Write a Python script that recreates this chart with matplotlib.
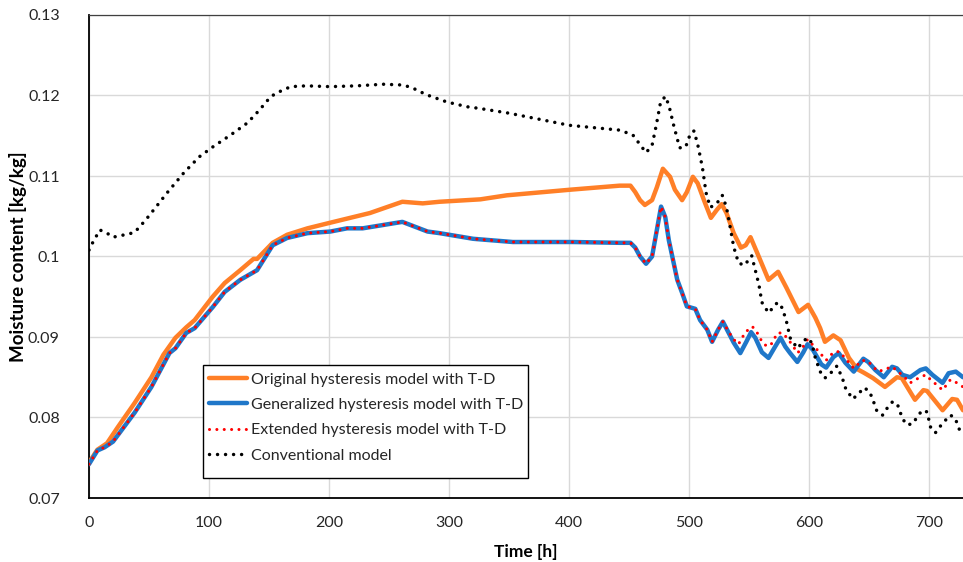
import matplotlib
matplotlib.use("Agg")
import matplotlib.pyplot as plt
from matplotlib.ticker import FuncFormatter
from matplotlib.patches import Rectangle

# ---------------- data ----------------
orig_t = [0, 7, 15, 24, 38, 52, 62, 72, 81, 88, 103, 113, 126, 137, 140, 153, 165, 182,
          201, 234, 261, 278, 292, 326, 348, 401, 442, 451, 455, 459, 463, 469, 473, 478,
          484, 488, 494, 498, 503, 507, 513, 518, 523, 527, 531, 537, 543, 547, 551, 557,
          566, 574, 581, 591, 599, 605, 609, 613, 620, 626, 633, 640, 645, 653, 663, 673,
          677, 688, 695, 698, 711, 719, 723, 728]
orig_y = [0.0744, 0.0760, 0.0768, 0.0788, 0.0818, 0.0850, 0.0878, 0.0899, 0.0912, 0.0921,
          0.0950, 0.0967, 0.0983, 0.0997, 0.0997, 0.1017, 0.1027, 0.1035, 0.1042, 0.1054,
          0.1068, 0.1066, 0.1068, 0.1071, 0.1076, 0.1083, 0.1088, 0.1088, 0.1080, 0.1070,
          0.1064, 0.1070, 0.1086, 0.1109, 0.1099, 0.1083, 0.1070, 0.1080, 0.1099, 0.1091,
          0.1067, 0.1048, 0.1058, 0.1065, 0.1054, 0.1029, 0.1011, 0.1014, 0.1024, 0.1003,
          0.0971, 0.0981, 0.0961, 0.0931, 0.0940, 0.0924, 0.0911, 0.0894, 0.0902, 0.0896,
          0.0874, 0.0860, 0.0856, 0.0849, 0.0838, 0.0850, 0.0849, 0.0822, 0.0834, 0.0833,
          0.0809, 0.0823, 0.0822, 0.0809]

gen_t = [0, 7, 13, 20, 38, 52, 67, 72, 81, 88, 103, 113, 126, 140, 153, 165, 182, 201,
         215, 228, 261, 282, 292, 320, 353, 403, 442, 451, 455, 459, 464, 469, 473, 476.5,
         480, 483, 487, 490, 494, 498, 505, 509, 515, 519, 524, 528, 532.5, 537, 542.5,
         547.5, 551.5, 555, 560.5, 566, 571.5, 576, 580, 584, 590, 595, 598.5, 603, 610,
         614, 620, 624.5, 630, 637, 645, 649, 655, 662, 669, 673, 677.5, 684, 692.5, 697,
         702.5, 711, 716, 722, 728]
gen_y = [0.0742, 0.0759, 0.0763, 0.0770, 0.0806, 0.0838, 0.0880, 0.0886, 0.0905, 0.0911,
         0.0937, 0.0956, 0.0971, 0.0983, 0.1014, 0.1023, 0.1029, 0.1031, 0.1035, 0.1035,
         0.1043, 0.1031, 0.1029, 0.1022, 0.1018, 0.1018, 0.1017, 0.1017, 0.1011, 0.1000,
         0.0991, 0.1000, 0.1033, 0.1062, 0.1049, 0.1020, 0.0992, 0.0971, 0.0955, 0.0938,
         0.0935, 0.0921, 0.0909, 0.0894, 0.0909, 0.0919, 0.0906, 0.0893, 0.0880, 0.0894,
         0.0906, 0.0899, 0.0881, 0.0874, 0.0888, 0.0899, 0.0888, 0.0880, 0.0869, 0.0881,
         0.0891, 0.0884, 0.0866, 0.0862, 0.0875, 0.0880, 0.0868, 0.0857, 0.0873, 0.0869,
         0.0859, 0.0850, 0.0863, 0.0861, 0.0853, 0.0850, 0.0859, 0.0861, 0.0853, 0.0843,
         0.0855, 0.0857, 0.0850]

ext_t = [0, 7, 13, 20, 38, 52, 67, 72, 81, 88, 103, 113, 126, 140, 153, 165, 182, 201,
         215, 228, 261, 282, 292, 320, 353, 403, 442, 451, 455, 459, 464, 469, 473, 476.5,
         480, 483, 487, 490, 494, 498, 505, 509, 515, 519, 524, 528, 533, 537, 541, 546.7,
         552.5, 556, 559, 563, 567.5, 573.5, 578, 586, 590, 594, 598.5, 603, 609, 614, 620,
         625, 632.5, 637, 644, 649, 653, 657.5, 665, 669, 674, 680, 684, 691, 697, 701,
         706.5, 711, 717.5, 723, 728]
ext_y = [0.0742, 0.0759, 0.0763, 0.0770, 0.0806, 0.0838, 0.0880, 0.0886, 0.0905, 0.0911,
         0.0937, 0.0956, 0.0971, 0.0983, 0.1014, 0.1023, 0.1029, 0.1031, 0.1035, 0.1035,
         0.1043, 0.1031, 0.1029, 0.1022, 0.1018, 0.1018, 0.1017, 0.1017, 0.1011, 0.1000,
         0.0991, 0.1000, 0.1033, 0.1062, 0.1049, 0.1020, 0.0992, 0.0971, 0.0955, 0.0938,
         0.0935, 0.0921, 0.0909, 0.0894, 0.0909, 0.0919, 0.0906, 0.0897, 0.0891, 0.0906,
         0.0913, 0.0907, 0.0898, 0.0890, 0.0889, 0.0905, 0.0905, 0.0890, 0.0880, 0.0886,
         0.0897, 0.0890, 0.0880, 0.0871, 0.0881, 0.0882, 0.0869, 0.0861, 0.0871, 0.0870,
         0.0863, 0.0857, 0.0861, 0.0863, 0.0857, 0.0849, 0.0843, 0.0849, 0.0853, 0.0847,
         0.0840, 0.0834, 0.0847, 0.0843, 0.0838]

conv_t = [0, 3, 9, 15, 20, 33, 38, 47, 55, 65, 79, 92, 103, 118, 132, 142, 151, 156, 168,
          181, 201, 223, 245, 262, 270, 281, 298, 315, 325, 350, 400, 442, 453, 461, 464,
          469, 472.5, 476, 480, 483, 487, 492, 497, 501, 504, 507.5, 511, 514, 517.5, 523,
          527.5, 531, 534, 537, 541, 546, 552, 555, 558, 560.5, 566, 573.5, 577.5, 581,
          584, 590, 598, 602, 605, 609, 613, 619, 623, 627.5, 630, 636, 641, 645, 649, 652,
          656.5, 661, 665, 669, 673, 677.5, 681, 686, 690, 694, 698, 701, 705, 709, 713,
          717.5, 721.5, 726, 728]
conv_y = [0.1008, 0.1017, 0.1033, 0.1029, 0.1024, 0.1028, 0.1030, 0.1045, 0.1060, 0.1079,
          0.1104, 0.1124, 0.1136, 0.1151, 0.1166, 0.1182, 0.1198, 0.1203, 0.1211, 0.1212,
          0.1211, 0.1212, 0.1214, 0.1213, 0.1209, 0.1201, 0.1192, 0.1186, 0.1184, 0.1178,
          0.1163, 0.1157, 0.1151, 0.1135, 0.1129, 0.1138, 0.1163, 0.1191, 0.1199, 0.1188,
          0.1163, 0.1135, 0.1136, 0.1153, 0.1156, 0.1136, 0.1110, 0.1079, 0.1061, 0.1066,
          0.1076, 0.1061, 0.1037, 0.1012, 0.0992, 0.0989, 0.1001, 0.0983, 0.0965, 0.0943,
          0.0930, 0.0943, 0.0936, 0.0919, 0.0899, 0.0886, 0.0899, 0.0893, 0.0874, 0.0857,
          0.0849, 0.0857, 0.0864, 0.0849, 0.0837, 0.0823, 0.0829, 0.0837, 0.0834, 0.0826,
          0.0807, 0.0803, 0.0812, 0.0819, 0.0818, 0.0799, 0.0791, 0.0792, 0.0801, 0.0809,
          0.0807, 0.0788, 0.0781, 0.0789, 0.0796, 0.0803, 0.0799, 0.0781, 0.0779]

labels = ["Original hysteresis model with T-D",
          "Generalized hysteresis model with T-D",
          "Extended hysteresis model with T-D",
          "Conventional model"]
x_ticks = [0, 100, 200, 300, 400, 500, 600, 700]
y_ticks = [0.07, 0.08, 0.09, 0.10, 0.11, 0.12, 0.13]

# ---------------- figure ----------------
plt.rcParams['font.family'] = ['Lato', 'DejaVu Sans']
W, H = 963, 562
fig = plt.figure(figsize=(W / 100, H / 100), dpi=100)
ax = fig.add_axes([89 / W, 1 - 498 / H, 874 / W, 483 / H])

ax.plot(orig_t, orig_y, color='#FF7F27', lw=3.2, solid_capstyle='round',
        solid_joinstyle='round', label=labels[0], zorder=3)
ax.plot(gen_t, gen_y, color='#1F77C9', lw=3.2, solid_capstyle='round',
        solid_joinstyle='round', label=labels[1], zorder=4)
ax.plot(ext_t, ext_y, color='#FF0000', lw=2.2, linestyle=(0, (0.01, 2.4)),
        dash_capstyle='round', label=labels[2], zorder=5)
ax.plot(conv_t, conv_y, color='#000000', lw=2.5, linestyle=(0, (0.01, 2.3)),
        dash_capstyle='round', label=labels[3], zorder=6)

ax.set_xlim(0, 728)
ax.set_ylim(0.07, 0.13)
ax.set_xticks(x_ticks)
ax.set_yticks(y_ticks)


def yfmt(v, pos):
    return f"{v:.2f}".rstrip('0')


ax.yaxis.set_major_formatter(FuncFormatter(yfmt))
ax.tick_params(axis='both', length=0, labelsize=11.5)
ax.tick_params(axis='y', pad=21)
ax.tick_params(axis='x', pad=13)
for lab in ax.get_xticklabels() + ax.get_yticklabels():
    lab.set_color('#262626')

ax.grid(True, color='#D9D9D9', lw=1.0, zorder=0)
ax.set_axisbelow(True)

for s in ['left', 'bottom']:
    ax.spines[s].set_color('#000000')
    ax.spines[s].set_linewidth(1.3)
ax.spines['right'].set_visible(False)
ax.spines['top'].set_linestyle((0, (1, 1)))
ax.spines['top'].set_color('#404040')
ax.spines['top'].set_linewidth(0.9)

ax.set_xlabel('Time [h]', fontsize=12.5, fontweight='bold')
ax.set_ylabel('Moisture content [kg/kg]', fontsize=13.5, fontweight='bold')
ax.xaxis.set_label_coords(0.5, -0.095)
ax.yaxis.set_label_coords(-0.071, 0.5)

# legend frame (px box 203..528 x 365..478)
fx0, fx1, fy0, fy1 = 203, 528, 365, 478
ax.add_patch(Rectangle(((fx0 - 89) / 874, (498 - fy1) / 483),
                       (fx1 - fx0) / 874, (fy1 - fy0) / 483,
                       transform=ax.transAxes, facecolor='white',
                       edgecolor='#000000', lw=1.0, zorder=9))
leg = ax.legend(loc='upper left', bbox_to_anchor=(0.130, 0.273), fontsize=11.5,
                frameon=False, handlelength=2.4, handletextpad=0.25,
                borderpad=0.4, labelspacing=0.70, borderaxespad=0)
leg.set_zorder(10)
for t in leg.get_texts():
    t.set_color('#262626')

fig.savefig('out.png', dpi=100)
